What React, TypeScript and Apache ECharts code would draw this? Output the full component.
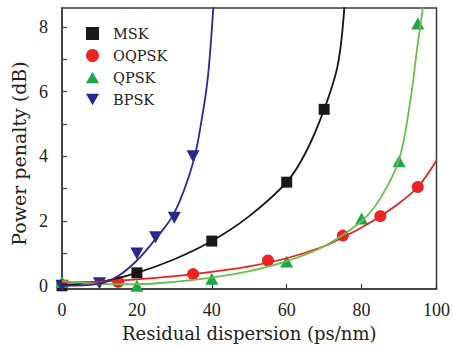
import React, { useEffect, useRef } from "react";
import * as echarts from "echarts";

// Measured points
const mskPoints: number[][] = [[0, 0.0], [20, 0.4], [40, 1.38], [60, 3.2], [70, 5.45]];
const oqpskPoints: number[][] = [[15, 0.12], [35, 0.36], [55, 0.78], [75, 1.55], [85, 2.15], [95, 3.05]];
const qpskPoints: number[][] = [[0, 0.12], [20, 0.0], [40, 0.22], [60, 0.75], [80, 2.08], [90, 3.85], [95, 8.1]];
const bpskPoints: number[][] = [[0, 0.0], [10, 0.08], [20, 1.0], [25, 1.5], [30, 2.1], [35, 4.0]];

// Fitted curves
const mskCurve: number[][] = [[0, 0.03], [10, 0.12], [20, 0.4], [30, 0.82], [40, 1.38], [50, 2.15], [60, 3.2], [65, 4.1], [70, 5.45], [73.6, 6.8], [75.4, 8.6]];
const oqpskCurve: number[][] = [[0, 0.1], [10, 0.13], [20, 0.2], [30, 0.3], [40, 0.43], [50, 0.6], [60, 0.85], [70, 1.22], [75, 1.5], [80, 1.8], [85, 2.15], [90, 2.55], [95, 3.05], [100, 3.87]];
const qpskCurve: number[][] = [[0, 0.15], [10, 0.06], [20, 0.05], [30, 0.12], [40, 0.25], [50, 0.45], [60, 0.76], [70, 1.22], [80, 2.0], [85, 2.7], [90, 3.9], [93, 5.7], [94.8, 7.3], [96.4, 8.6]];
const bpskCurve: number[][] = [[0, 0.0], [10, 0.06], [15, 0.3], [20, 0.78], [25, 1.45], [30, 2.25], [35, 3.8], [37.4, 5.2], [39, 6.5], [40.4, 8.6]];

const seriesNames = ["MSK", "OQPSK", "QPSK", "BPSK"];
const xTicks = [0, 20, 40, 60, 80, 100];
const yLabelValues = [0, 2, 4, 6, 8];
const yTickValues = [0, 1, 2, 3, 4, 5, 6, 7, 8];

const downTri = "path://M0,0 L10,0 L5,9 Z";
const upTri = "path://M5,0 L10,9 L0,9 Z";

export default function App() {
  const ref = useRef<HTMLDivElement>(null);
  useEffect(() => {
    if (!ref.current) return;
    const chart = echarts.init(ref.current, undefined, { renderer: "svg" });
    const axisColor = "#3a3a3a";
    const serif = "DejaVu Serif";
    const lineStyleBase = { width: 1.8 };
    const curve = (data: number[][], color: string) => ({
      type: "line",
      data,
      smooth: 0.35,
      showSymbol: false,
      symbol: "none",
      lineStyle: { ...lineStyleBase, color },
      silent: true,
    });
    chart.setOption({
      animation: false,
      backgroundColor: "#ffffff",
      grid: {
        left: 62,
        right: 16,
        top: 8,
        bottom: 55,
        show: true,
        borderColor: axisColor,
        borderWidth: 1.5,
        backgroundColor: "transparent",
      },
      legend: {
        orient: "vertical",
        left: 86,
        top: 26,
        padding: 0,
        itemWidth: 13,
        itemHeight: 13,
        itemGap: 7,
        data: seriesNames,
        textStyle: {
          fontFamily: serif,
          fontSize: 14.5,
          color: "#222",
          padding: [0, 0, 0, 9],
        },
      },
      xAxis: {
        type: "value",
        min: 0,
        max: 100,
        interval: 20,
        name: "Residual dispersion (ps/nm)",
        nameLocation: "middle",
        nameGap: 35,
        nameTextStyle: { fontFamily: serif, fontSize: 18, color: "#222" },
        axisLine: { show: true, onZero: false, lineStyle: { color: axisColor, width: 1.5 } },
        axisTick: { show: true, inside: true, length: 5, lineStyle: { color: axisColor, width: 1.2 } },
        axisLabel: {
          fontFamily: "Liberation Serif",
          fontSize: 18,
          color: "#222",
          margin: 12,
          customValues: xTicks,
        },
        splitLine: { show: false },
      },
      yAxis: {
        type: "value",
        min: -0.1,
        max: 8.58,
        name: "Power penalty (dB)",
        nameLocation: "middle",
        nameGap: 32,
        nameTextStyle: { fontFamily: serif, fontSize: 19, color: "#222", padding: [0, 10, 0, 0] },
        axisLine: { show: true, onZero: false, lineStyle: { color: axisColor, width: 1.5 } },
        axisTick: {
          show: true,
          inside: true,
          length: 5,
          lineStyle: { color: axisColor, width: 1.2 },
          customValues: yTickValues,
        },
        axisLabel: {
          fontFamily: "Liberation Serif",
          fontSize: 18,
          color: "#222",
          margin: 14,
          customValues: yLabelValues,
        },
        splitLine: { show: false },
      },
      series: [
        curve(mskCurve, "#151515"),
        curve(oqpskCurve, "#e8221f"),
        curve(qpskCurve, "#6cc04a"),
        curve(bpskCurve, "#2b2b92"),
        {
          name: "MSK",
          type: "scatter",
          data: mskPoints,
          symbol: "rect",
          symbolSize: 11,
          itemStyle: { color: "#1a1a1a", opacity: 1 },
        },
        {
          name: "OQPSK",
          type: "scatter",
          data: oqpskPoints,
          symbol: "circle",
          symbolSize: 12,
          itemStyle: { color: "#ee2424", opacity: 1 },
        },
        {
          name: "QPSK",
          type: "scatter",
          data: qpskPoints,
          symbol: upTri,
          symbolSize: [13, 12],
          itemStyle: { color: "#1fa64a", opacity: 1 },
        },
        {
          name: "BPSK",
          type: "scatter",
          data: bpskPoints,
          symbol: downTri,
          symbolSize: [13, 12],
          itemStyle: { color: "#27288e", opacity: 1 },
        },
      ],
    });
    return () => chart.dispose();
  }, []);
  return <div ref={ref} style={{ width: 453, height: 347, position: "absolute", left: 0, top: 0 }} />;
}
